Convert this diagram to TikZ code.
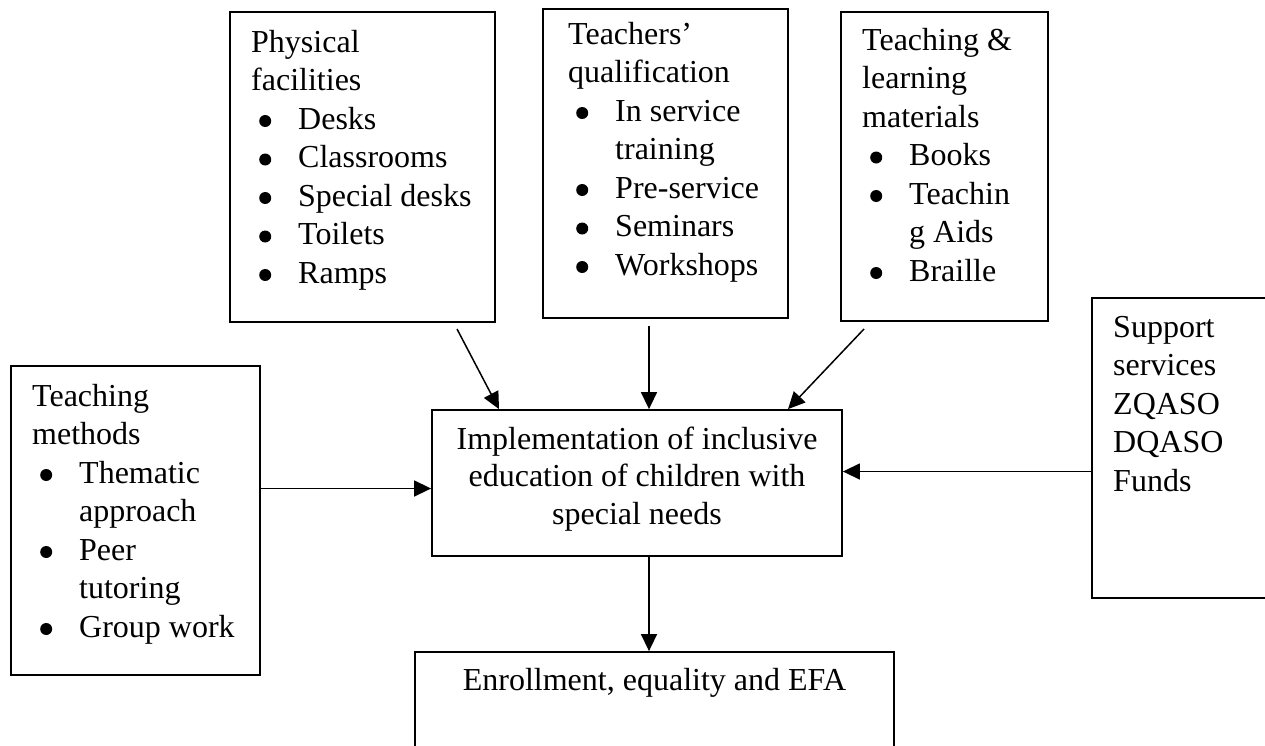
\documentclass[tikz,border=0pt]{standalone}
\usepackage{fontspec}
\setmainfont{Liberation Serif}
\usetikzlibrary{arrows.meta}
\newcommand\bul{\makebox[47pt][l]{\hspace{8pt}\tikz[baseline=0pt]\fill (0pt,8pt) circle[radius=6pt];}}
\newcommand\ind{\hspace*{47pt}}
\tikzset{
  box/.style={draw, line width=1.8pt, inner sep=0pt},
  txt/.style={inner sep=0pt, align=left, anchor=base west, font=\fontsize{32}{38.5}\selectfont},
  ctxt/.style={inner sep=0pt, align=center, anchor=base, font=\fontsize{32}{37.5}\selectfont},
  arr/.style={line width=1.5pt, -{Triangle[length=17pt,width=16pt]}}
}
\begin{document}
\begin{tikzpicture}[x=1pt,y=-1pt]
\useasboundingbox (0,0) rectangle (1265,745);
% boxes
\node[box, minimum width=265pt, minimum height=310pt] (phys) at (362.5,167) {};
\node[box, minimum width=245pt, minimum height=309pt] (teach) at (665.5,163.5) {};
\node[box, minimum width=207pt, minimum height=309pt] (mat) at (944.5,166.5) {};
\node[box, minimum width=176pt, minimum height=300pt] (sup) at (1180,448) {};
\node[box, minimum width=249pt, minimum height=309pt] (meth) at (135.5,520.5) {};
\node[box, minimum width=410pt, minimum height=146pt] (impl) at (637,483) {};
\node[box, minimum width=479pt, minimum height=100pt] (enr) at (654.5,702) {};
% texts (anchor = baseline of last line)
\node[txt] (physT) at (251,283) {Physical\\facilities\\\bul Desks\\\bul Classrooms\\\bul Special desks\\\bul Toilets\\\bul Ramps};
\node[txt] (teachT) at (568,275) {Teachers’\\qualification\\\bul In service\\\ind training\\\bul Pre-service\\\bul Seminars\\\bul Workshops};
\node[txt] (matT) at (862,281) {Teaching \&\\learning\\materials\\\bul Books\\\bul Teachin\\\ind g Aids\\\bul Braille};
\node[txt] (methT) at (32,637) {Teaching\\methods\\\bul Thematic\\\ind approach\\\bul Peer\\\ind tutoring\\\bul Group work};
\node[txt] (supT) at (1113,491) {Support\\services\\ZQASO\\DQASO\\Funds};
\node[ctxt] (implT) at (637,524) {Implementation of inclusive\\education of children with\\special needs};
\node[ctxt] (enrT) at (654.5,690) {Enrollment, equality and EFA};
% arrows
\coordinate (ps) at (457,329);
\coordinate (ts) at (649,326);
\coordinate (ms) at (864,329);
\draw[arr] (ps) -- ([xshift=-138pt]impl.north);
\draw[arr] (ts) -- (ts |- impl.north);
\draw[arr] (ms) -- ([xshift=151pt]impl.north);
\draw[arr] ([yshift=-5.5pt]impl.west -| meth.east) -- ([yshift=-5.5pt]impl.west);
\draw[arr] ([yshift=11.5pt]impl.east -| sup.west) -- ([yshift=11.5pt]impl.east);
\draw[arr] ([xshift=12pt]impl.south) -- ([xshift=12pt]impl.south |- enr.north);
\end{tikzpicture}
\end{document}
